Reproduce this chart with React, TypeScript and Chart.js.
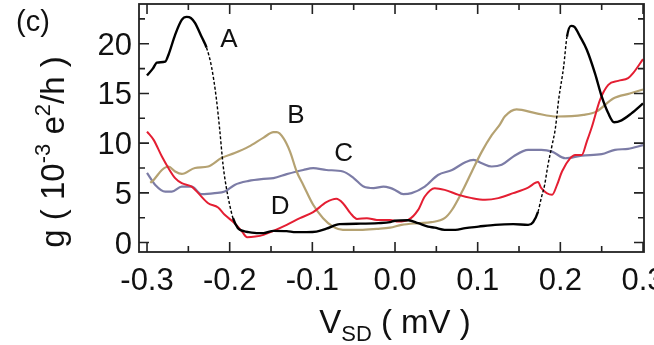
import { useEffect, useRef } from 'react';
import { Chart, registerables } from 'chart.js';
Chart.register(...registerables);

const FONT = '"Liberation Sans", Arial, sans-serif';

// Axis ranges and ticks
const X_MIN = -0.3097;
const X_MAX = 0.3012;
const Y_MIN = -0.95;
const Y_MAX = 24.0;
const X_MAJOR = [-0.3, -0.2, -0.1, 0.0, 0.1, 0.2, 0.3];
const X_LABELS = ['-0.3', '-0.2', '-0.1', '0.0', '0.1', '0.2', '0.3'];
const X_MINOR = [-0.25, -0.15, -0.05, 0.05, 0.15, 0.25];
const Y_MAJOR = [0, 5, 10, 15, 20];
const Y_LABELS = ['0', '5', '10', '15', '20'];
const Y_MINOR = [2.5, 7.5, 12.5, 17.5, 22.5];

// Curve A (black)
const aX = [-0.300,-0.293,-0.288,-0.278,-0.274,-0.266,-0.258,-0.252,-0.247,-0.242,-0.234,-0.228,-0.222,-0.216,-0.212,-0.208,-0.204,-0.200,-0.196,-0.190,-0.183,-0.177,-0.165,-0.159,-0.147,-0.131,-0.120,-0.107,-0.095,-0.083,-0.067,-0.042,-0.020,-0.006,0.000,0.016,0.028,0.040,0.048,0.060,0.073,0.085,0.101,0.121,0.143,0.161,0.167,0.173,0.177,0.181,0.185,0.190,0.194,0.198,0.204,0.208,0.213,0.217,0.224,0.232,0.242,0.250,0.258,0.265,0.274,0.286,0.300];
const aY = [16.8,17.5,18.1,18.2,18.9,20.9,22.4,22.7,22.6,22.1,20.7,19.6,17.7,14.4,11.3,7.8,5.5,3.8,2.45,1.45,1.15,1.05,0.95,0.95,1.18,1.15,1.05,1.05,1.1,1.4,1.85,1.9,1.95,2.05,2.2,2.25,1.95,1.6,1.5,1.28,1.28,1.45,1.6,1.78,1.85,1.78,2.05,3.1,4.5,5.8,7.8,9.8,11.5,14.4,17.7,20.7,21.8,21.7,20.7,19.4,17.0,14.7,13.0,12.1,12.3,13.0,14.0];

// Curve B (tan)
const bX = [-0.296,-0.292,-0.282,-0.274,-0.266,-0.258,-0.242,-0.226,-0.210,-0.194,-0.177,-0.159,-0.147,-0.143,-0.135,-0.127,-0.119,-0.111,-0.099,-0.087,-0.075,-0.063,-0.042,-0.022,-0.006,0.008,0.028,0.044,0.060,0.069,0.081,0.093,0.105,0.117,0.127,0.133,0.147,0.171,0.196,0.228,0.244,0.264,0.284,0.300];
const bY = [6.0,6.3,7.3,7.65,7.15,6.9,7.5,7.65,8.5,9.0,9.65,10.56,11.1,11.1,10.5,9.15,7.15,5.8,3.8,2.45,1.6,1.28,1.28,1.38,1.5,1.78,1.95,2.05,2.45,3.3,5.1,7.15,9.15,10.8,11.9,12.7,13.4,13.0,12.68,12.85,13.2,14.5,15.0,15.4];

// Curve C (blue)
const cX = [-0.300,-0.290,-0.278,-0.270,-0.258,-0.246,-0.234,-0.218,-0.206,-0.194,-0.177,-0.159,-0.147,-0.131,-0.111,-0.099,-0.083,-0.063,-0.050,-0.038,-0.026,-0.014,-0.006,0.000,0.010,0.020,0.036,0.052,0.069,0.085,0.095,0.105,0.117,0.129,0.143,0.161,0.177,0.190,0.206,0.226,0.250,0.266,0.282,0.300];
const cY = [7.0,5.8,5.13,5.13,5.63,5.63,4.87,4.97,5.13,5.8,6.2,6.4,6.48,6.88,7.3,7.48,7.3,7.15,6.48,5.63,5.47,5.63,5.5,5.3,4.87,4.97,5.63,6.8,7.3,8.08,8.32,7.98,7.65,7.82,8.65,9.33,9.33,9.15,8.48,8.75,8.89,9.33,9.43,9.8];

// Curve D (red)
const dX = [-0.300,-0.292,-0.282,-0.274,-0.266,-0.258,-0.246,-0.238,-0.226,-0.214,-0.206,-0.194,-0.185,-0.179,-0.169,-0.159,-0.147,-0.131,-0.115,-0.099,-0.083,-0.071,-0.063,-0.054,-0.046,-0.034,-0.022,-0.006,0.004,0.016,0.028,0.036,0.048,0.060,0.077,0.093,0.109,0.125,0.143,0.161,0.173,0.177,0.190,0.196,0.202,0.212,0.218,0.226,0.232,0.238,0.248,0.258,0.270,0.282,0.288,0.300];
const dY = [11.17,10.33,8.65,7.48,6.48,5.97,5.63,4.97,3.96,3.52,2.79,1.95,1.1,0.54,0.6,0.77,1.18,1.78,2.45,3.06,4.06,4.4,3.96,2.96,2.38,2.45,2.28,2.28,2.11,2.28,3.29,4.63,5.47,5.3,4.8,4.47,4.3,4.47,4.97,5.53,6.08,5.47,4.8,5.8,7.15,8.49,8.82,8.82,10.16,11.6,14.36,15.87,16.27,16.54,17.04,18.45];

// Curve labels
const LABEL_TEXT = ['A', 'B', 'C', 'D'];
const LABEL_X = [-0.2008, -0.120, -0.062, -0.139];
const LABEL_Y = [20.6, 12.95, 9.12, 3.79];

const pts = (xs: number[], ys: number[]) => xs.map((x, i) => ({ x, y: ys[i] }));

type Part = [string, number, number];
function drawRich(ctx: CanvasRenderingContext2D, parts: Part[], cx: number, by: number) {
  let total = 0;
  for (const [t, s] of parts) {
    ctx.font = `${s}px ${FONT}`;
    total += ctx.measureText(t).width;
  }
  let x = cx - total / 2;
  ctx.textAlign = 'left';
  ctx.textBaseline = 'alphabetic';
  for (const [t, s, dy] of parts) {
    ctx.font = `${s}px ${FONT}`;
    ctx.fillText(t, x, by + dy);
    x += ctx.measureText(t).width;
  }
}

const overlay = {
  id: 'overlay',
  afterDraw(chart: any) {
    const { ctx, chartArea: a, scales } = chart;
    const xs = scales.x;
    const ys = scales.y;
    ctx.save();
    ctx.strokeStyle = '#222';
    ctx.lineWidth = 1.8;
    ctx.strokeRect(a.left, a.top, a.right - a.left, a.bottom - a.top);
    ctx.lineWidth = 1.6;
    const xt = (v: number, len: number) => {
      const p = xs.getPixelForValue(v);
      ctx.beginPath();
      ctx.moveTo(p, a.bottom); ctx.lineTo(p, a.bottom - len);
      ctx.moveTo(p, a.top); ctx.lineTo(p, a.top + len);
      ctx.stroke();
    };
    const yt = (v: number, len: number) => {
      const p = ys.getPixelForValue(v);
      ctx.beginPath();
      ctx.moveTo(a.left, p); ctx.lineTo(a.left + len, p);
      ctx.moveTo(a.right, p); ctx.lineTo(a.right - len, p);
      ctx.stroke();
    };
    X_MAJOR.forEach((v) => xt(v, 10));
    X_MINOR.forEach((v) => xt(v, 6));
    Y_MAJOR.forEach((v) => yt(v, 10));
    Y_MINOR.forEach((v) => yt(v, 6));

    ctx.fillStyle = '#111';
    ctx.font = `31px ${FONT}`;
    ctx.textBaseline = 'alphabetic';
    ctx.textAlign = 'center';
    X_MAJOR.forEach((v, i) => ctx.fillText(X_LABELS[i], xs.getPixelForValue(v), 290));
    ctx.textAlign = 'right';
    Y_MAJOR.forEach((v, i) => ctx.fillText(Y_LABELS[i], 132, ys.getPixelForValue(v) + 11));

    // curve labels
    ctx.font = `26px ${FONT}`;
    ctx.textAlign = 'center';
    LABEL_TEXT.forEach((t, i) => {
      ctx.fillText(t, xs.getPixelForValue(LABEL_X[i]), ys.getPixelForValue(LABEL_Y[i]) + 9.3);
    });

    // panel label
    ctx.font = `29px ${FONT}`;
    ctx.textAlign = 'left';
    ctx.fillText('(c)', 16, 31);

    // x title
    drawRich(ctx, [['V', 33, 0], ['SD', 22, 8], [' ( mV )', 33, 0]], 395, 333);

    // y title
    ctx.save();
    ctx.translate(64, 152);
    ctx.rotate(-Math.PI / 2);
    drawRich(ctx, [['g ( 10', 33, 0], ['-3', 22, -14], [' e', 33, 0], ['2', 22, -14], ['/h )', 33, 0]], 0, 0);
    ctx.restore();

    ctx.restore();
  },
};

export default function App() {
  const ref = useRef<HTMLCanvasElement>(null);
  useEffect(() => {
    const steep = (c: any) =>
      Math.abs((c.p1.parsed.y - c.p0.parsed.y) / (c.p1.parsed.x - c.p0.parsed.x)) > 300;
    const chart = new Chart(ref.current as HTMLCanvasElement, {
      type: 'line',
      data: {
        datasets: [
          {
            data: pts(aX, aY),
            borderColor: '#000000',
            borderWidth: 2.4,
            segment: {
              borderDash: (c: any) => (steep(c) ? [3, 2] : undefined),
              borderWidth: (c: any) => (steep(c) ? 1.4 : undefined),
            },
          },
          { data: pts(dX, dY), borderColor: '#e41e32', borderWidth: 2 },
          { data: pts(bX, bY), borderColor: '#b5a272', borderWidth: 2.2 },
          { data: pts(cX, cY), borderColor: '#7c7ca6', borderWidth: 2.2 },
        ] as any,
      },
      options: {
        responsive: false,
        animation: false,
        devicePixelRatio: 1,
        events: [],
        layout: { padding: { left: 139, top: 4, right: 10, bottom: 93 } },
        elements: { point: { radius: 0 }, line: { cubicInterpolationMode: 'monotone', fill: false } },
        scales: {
          x: { type: 'linear', min: X_MIN, max: X_MAX, display: false },
          y: { type: 'linear', min: Y_MIN, max: Y_MAX, display: false },
        },
        plugins: { legend: { display: false }, tooltip: { enabled: false } },
      },
      plugins: [overlay],
    });
    return () => chart.destroy();
  }, []);
  return (
    <div style={{ position: 'absolute', left: 0, top: 0, width: 654, height: 345, background: '#fff', overflow: 'hidden' }}>
      <canvas ref={ref} width={654} height={345} style={{ width: 654, height: 345, display: 'block' }} />
    </div>
  );
}
